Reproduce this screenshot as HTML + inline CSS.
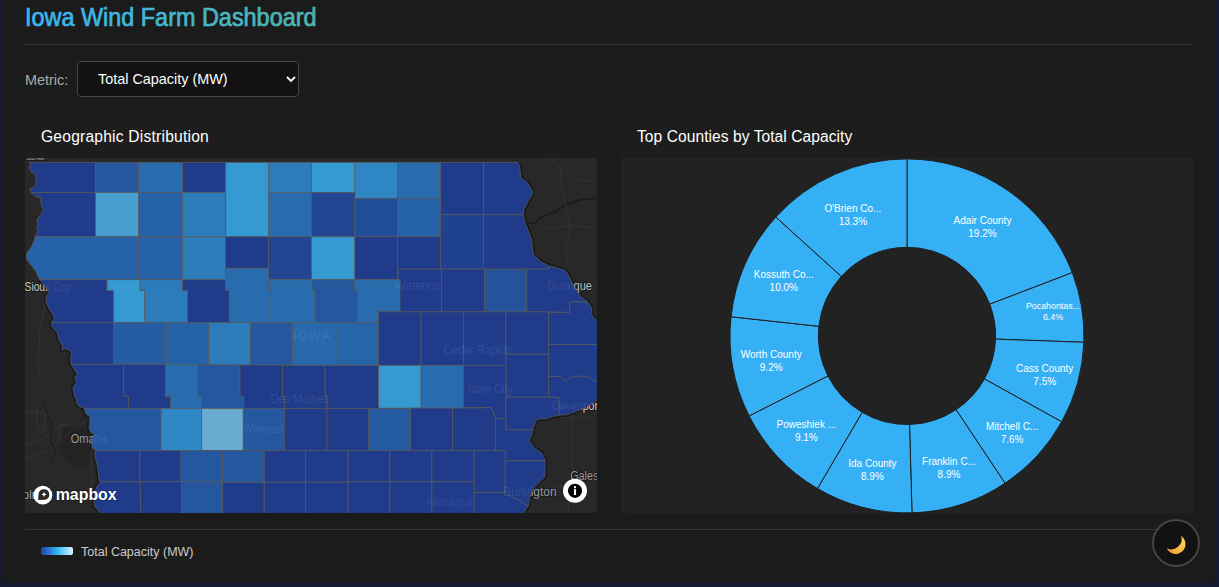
<!DOCTYPE html>
<html lang="en">
<head>
<meta charset="utf-8">
<title>Iowa Wind Farm Dashboard</title>
<style>
*{box-sizing:border-box;margin:0;padding:0}
html,body{width:1219px;height:587px;overflow:hidden}
body{background:#141a30;font-family:"Liberation Sans",sans-serif;position:relative;color:#fff}
.container{position:absolute;left:1px;top:-20px;width:1215px;height:603px;background:#1b1b1b;border-radius:8px}
.title{position:absolute;left:25px;top:2px;font-size:25px;line-height:30px;white-space:nowrap;
 background:linear-gradient(90deg,#38bdf8,#4db6ac);-webkit-background-clip:text;background-clip:text;color:transparent;-webkit-text-fill-color:transparent;transform-origin:0 0}
.hr{position:absolute;left:25px;width:1167px;height:1px;background:#333}
.metric{position:absolute;left:25px;top:71px;font-size:14.4px;line-height:18px;color:#aaa}
.select{position:absolute;left:77px;top:61px;width:222px;height:36px;border:1px solid #444;border-radius:4px;background:#121212}
.select span{position:absolute;left:20px;top:8px;font-size:14.4px;line-height:18px;color:#fff;white-space:nowrap}
.select svg{position:absolute;left:208px;top:14px}
.card{position:absolute;top:113.2px;width:572px;height:399.4px;background:#1d1d1d;border-radius:4px;overflow:hidden}
.card h3{position:absolute;left:16px;top:14px;font-size:15.6px;line-height:20px;font-weight:normal;color:#fff;white-space:nowrap}
.map{position:absolute;left:0;top:45px;width:572px;height:355px;background:#282828;overflow:hidden}
.piebox{position:absolute;left:0;top:45px;width:572px;height:355px;background:#222}
.legend{position:absolute;left:41px;top:547px;width:32px;height:8px;border-radius:2px;background:linear-gradient(90deg,#1e40af,#38bdf8 55%,#e0f2fe)}
.legtxt{position:absolute;left:81px;top:544.8px;font-size:12.5px;line-height:15px;color:#ccc;white-space:nowrap}
.moon{position:absolute;left:1152px;top:519px;width:48px;height:48px;border-radius:50%;border:2px solid #444;background:#121212}
</style>
</head>
<body>
<div class="container"></div>
<svg width="340" height="40" viewBox="0 0 340 40" style="position:absolute;left:0;top:0">
<defs><linearGradient id="tg" x1="25" x2="317" y1="0" y2="0" gradientUnits="userSpaceOnUse"><stop offset="0" stop-color="#38b6f5"/><stop offset="1" stop-color="#4db6ac"/></linearGradient></defs>
<text x="25" y="26.4" font-family="Liberation Sans, sans-serif" font-size="25" fill="url(#tg)" stroke="url(#tg)" stroke-width="0.7" textLength="291.5" lengthAdjust="spacingAndGlyphs">Iowa Wind Farm Dashboard</text>
</svg>
<div class="hr" style="top:44px"></div>
<div class="metric">Metric:</div>
<div class="select"><span>Total Capacity (MW)</span>
<svg width="10" height="7" viewBox="0 0 10 7"><path d="M1 1l4 4 4-4" fill="none" stroke="#fff" stroke-width="1.8"/></svg></div>

<div class="card" style="left:25px"><h3 style="letter-spacing:0.22px">Geographic Distribution</h3>
<div class="map">
<svg width="572" height="355" viewBox="0 0 572 355" style="position:absolute;left:0;top:0">
<polygon points="36.0,281.8 37.0,271.8 45.0,269.8 55.0,266.8 61.0,271.8 64.0,281.8 65.0,296.8 63.0,307.8 53.0,311.8 45.0,307.8 41.0,299.8 35.0,296.8" fill="#232323"/>
<polyline points="14.8,121.7 21.6,130.7 24.0,135.3 20.9,139.9 21.9,144.9 23.2,149.1 28.4,157.4 29.2,160.8 26.2,164.6 27.5,169.3 32.6,175.3 34.3,183.0 37.7,188.1 36.9,191.5 41.2,190.8 46.3,194.0 45.4,201.7 46.3,206.7 49.7,211.9 52.2,216.2 49.7,219.6 51.4,225.5 48.0,229.0 48.8,235.8 51.4,241.7 52.2,246.8 56.5,250.0 58.2,247.0 59.0,250.4 61.0,255.8 65.1,258.9 64.1,270.1 66.2,275.2 69.2,275.2 66.2,281.4 67.2,289.5 70.2,292.6 69.6,298.7 72.3,306.9 73.3,315.1 74.3,323.3 76.4,323.7 72.3,327.4 69.2,335.6 69.2,347.8 74.3,354.0 77.6,355.9" fill="none" stroke="#191919" stroke-width="4" stroke-linejoin="round"/>
<polyline points="493.4,4.4 494.8,9.7 495.8,19.9 502.0,24.0 508.1,34.2 503.0,43.4 498.9,51.6 498.3,56.7 499.3,62.4 503.1,72.4 506.8,82.4 508.1,96.1 515.6,103.6 523.1,107.4 523.6,111.2" fill="none" stroke="#191919" stroke-width="4" stroke-linejoin="round"/>
<polyline points="523.6,111.0 524.6,107.8 539.1,112.0 543.7,117.3 547.6,126.5 555.2,138.0 562.9,144.1 566.7,150.3 566.7,156.4 569.8,161.0 573.1,163.4" fill="none" stroke="#191919" stroke-width="4" stroke-linejoin="round"/>
<polyline points="573.1,241.6 568.2,244.8 561.3,249.4 555.2,251.7 549.1,254.0 541.4,256.8 534.2,257.1 527.6,258.6 519.8,261.0 512.9,261.0 510.0,264.9 508.1,271.8 506.1,278.6 504.1,282.5 510.0,290.4 516.9,295.3 519.8,301.1 520.0,302.9 520.2,310.9 519.8,318.8 513.9,324.6 509.0,329.5 505.1,338.4 503.2,348.1 497.9,355.4" fill="none" stroke="#191919" stroke-width="4" stroke-linejoin="round"/>
<polyline points="500.3,65.3 509.5,65.3 517.7,58.1 530.0,54.1 540.2,46.9 554.5,41.8 572.0,40.2" fill="none" stroke="#1a1a1a" stroke-width="1.6"/>
<polyline points="525.9,-0.2 535.1,11.1 537.1,31.6 540.2,45.9 545.3,66.3 544.3,78.6 540.2,86.8 542.3,103.1 546.3,111.3" fill="none" stroke="#3a3a3a" stroke-width="0.7"/>
<polyline points="535.1,11.1 552.5,21.3 572.0,24.4" fill="none" stroke="#3a3a3a" stroke-width="0.7"/>
<polyline points="515.7,71.4 545.3,67.4 572.0,70.0" fill="none" stroke="#3a3a3a" stroke-width="0.7"/>
<polyline points="547.3,255.8 547.3,321.8" fill="none" stroke="#3a3a3a" stroke-width="0.7"/>
<polyline points="543.3,328.8 543.3,354.8" fill="none" stroke="#3a3a3a" stroke-width="0.7"/>
<polyline points="525.0,328.8 543.3,328.8" fill="none" stroke="#3a3a3a" stroke-width="0.7"/>
<polyline points="537.0,259.8 572.0,259.8" fill="none" stroke="#3a3a3a" stroke-width="0.7"/>
<polyline points="0.0,300.8 20.0,293.8 37.0,281.8 50.0,269.8 65.0,259.8" fill="none" stroke="#3a3a3a" stroke-width="0.7"/>
<polyline points="0.0,286.8 15.0,281.8 30.0,271.8 45.0,259.8" fill="none" stroke="#3a3a3a" stroke-width="0.7"/>
<polyline points="12.0,246.8 12.0,271.8 20.0,271.8 20.0,253.8 12.0,253.8" fill="none" stroke="#3a3a3a" stroke-width="0.7"/>
<polyline points="0.0,253.8 12.0,253.8" fill="none" stroke="#3a3a3a" stroke-width="0.7"/>
<polyline points="35.0,281.8 35.0,266.8 45.0,266.8" fill="none" stroke="#3a3a3a" stroke-width="0.7"/>
<polyline points="23.0,128.8 19.0,151.8 15.0,171.8 13.0,201.8 15.0,221.8" fill="none" stroke="#3a3a3a" stroke-width="0.7"/>
<polyline points="67.0,281.8 67.0,341.8" fill="none" stroke="#3a3a3a" stroke-width="0.7"/>
<polyline points="17.0,241.8 22.0,253.8 27.0,266.8 25.0,281.8 31.0,293.8 27.0,303.8" fill="none" stroke="#1c1c1c" stroke-width="1"/>
<polyline points="47.0,236.8 55.0,251.8 61.0,261.8 63.0,273.8" fill="none" stroke="#1c1c1c" stroke-width="1"/>
<g font-family="Liberation Sans, sans-serif" fill="#9a9a9a"><text fill="#c4c4c4" x="-0.4" y="133.1" font-size="12" textLength="46.0" lengthAdjust="spacingAndGlyphs" stroke="#1d1d1d" stroke-width="2.2" paint-order="stroke" stroke-linejoin="round">Sioux City</text><text fill="#939393" x="45.7" y="284.8" font-size="12" textLength="36.2" lengthAdjust="spacingAndGlyphs" stroke="#1d1d1d" stroke-width="2.2" paint-order="stroke" stroke-linejoin="round">Omaha</text><text fill="#9a9a9a" x="370.0" y="132.2" font-size="12" textLength="46.0" lengthAdjust="spacingAndGlyphs" stroke="#1d1d1d" stroke-width="2.2" paint-order="stroke" stroke-linejoin="round">Waterloo</text><text fill="#9a9a9a" x="418.5" y="196.4" font-size="12" textLength="68.5" lengthAdjust="spacingAndGlyphs" stroke="#1d1d1d" stroke-width="2.2" paint-order="stroke" stroke-linejoin="round">Cedar Rapids</text><text fill="#b4b4b4" x="522.0" y="132.2" font-size="12" textLength="45.0" lengthAdjust="spacingAndGlyphs" stroke="#1d1d1d" stroke-width="2.2" paint-order="stroke" stroke-linejoin="round">Dubuque</text><text fill="#9a9a9a" x="245.4" y="244.8" font-size="12" textLength="58.6" lengthAdjust="spacingAndGlyphs" stroke="#1d1d1d" stroke-width="2.2" paint-order="stroke" stroke-linejoin="round">Des Moines</text><text fill="#9a9a9a" x="443.0" y="234.6" font-size="12" textLength="45.0" lengthAdjust="spacingAndGlyphs" stroke="#1d1d1d" stroke-width="2.2" paint-order="stroke" stroke-linejoin="round">Iowa City</text><text fill="#c8c8c8" x="527.0" y="252.1" font-size="12" textLength="49.0" lengthAdjust="spacingAndGlyphs" stroke="#1d1d1d" stroke-width="2.2" paint-order="stroke" stroke-linejoin="round">Davenport</text><text fill="#9a9a9a" x="218.8" y="274.6" font-size="12" textLength="39.4" lengthAdjust="spacingAndGlyphs" stroke="#1d1d1d" stroke-width="2.2" paint-order="stroke" stroke-linejoin="round">Winterset</text><text fill="#909090" x="478.0" y="337.8" font-size="12" textLength="53.5" lengthAdjust="spacingAndGlyphs" stroke="#1d1d1d" stroke-width="2.2" paint-order="stroke" stroke-linejoin="round">Burlington</text><text fill="#9a9a9a" x="402.0" y="347.8" font-size="12" textLength="46.0" lengthAdjust="spacingAndGlyphs" stroke="#1d1d1d" stroke-width="2.2" paint-order="stroke" stroke-linejoin="round">Keosauqua</text><text fill="#8c8c8c" x="545.2" y="322.0" font-size="12" textLength="49.8" lengthAdjust="spacingAndGlyphs" stroke="#1d1d1d" stroke-width="2.2" paint-order="stroke" stroke-linejoin="round">Galesburg</text><text fill="#a0a0a0" x="-23.0" y="340.8" font-size="12" textLength="36.0" lengthAdjust="spacingAndGlyphs" stroke="#1d1d1d" stroke-width="2.2" paint-order="stroke" stroke-linejoin="round">Lincoln</text><text fill="#bbb" x="1.6" y="1.8" font-size="6" textLength="17.7" lengthAdjust="spacingAndGlyphs" stroke="#1d1d1d" stroke-width="2.2" paint-order="stroke" stroke-linejoin="round">Sioux Falls</text><text x="268.2" y="182.4" font-size="12" textLength="36.8" lengthAdjust="spacing" stroke="#1d1d1d" stroke-width="2.2" paint-order="stroke" stroke-linejoin="round">IOWA</text></g>
<g stroke="#5c5c5c" stroke-width="0.75" stroke-linejoin="round">
<polygon points="70.6,34.6 6.2,34.6 6.0,34.2 5.1,30.4 8.6,29.6 10.9,25.8 10.9,18.1 7.1,14.3 4.0,10.4 6.0,6.6 4.0,4.4 70.6,4.4" fill="#1f3b8a"/>
<polygon points="70.6,4.4 113.8,4.4 113.8,34.6 70.6,34.6" fill="#24579e"/>
<polygon points="113.8,4.4 157.6,4.4 157.6,34.6 113.8,34.6" fill="#296cae"/>
<polygon points="157.6,4.4 200.6,4.4 200.6,34.6 157.6,34.6" fill="#1f3b8a"/>
<polygon points="200.6,4.4 243.6,4.4 243.6,78.7 200.6,78.7" fill="#359ad2"/>
<polygon points="243.6,4.4 286.6,4.4 286.6,34.6 243.6,34.6" fill="#2c7bbb"/>
<polygon points="286.6,4.4 329.9,4.4 329.9,34.6 286.6,34.6" fill="#359ad2"/>
<polygon points="329.9,4.4 372.6,4.4 372.6,40.4 329.9,40.4" fill="#2f88c5"/>
<polygon points="372.6,4.4 415.6,4.4 415.6,40.4 372.6,40.4" fill="#296cae"/>
<polygon points="415.6,4.4 458.6,4.4 458.6,56.7 415.6,56.7" fill="#1f3b8a"/>
<polygon points="458.6,4.4 493.4,4.4 494.8,9.7 495.8,19.9 502.0,24.0 508.1,34.2 503.0,43.4 498.9,51.6 498.3,56.7 458.6,56.7" fill="#1f3b8a"/>
<polygon points="70.6,78.7 10.2,78.7 13.2,72.6 11.7,69.4 13.2,66.4 11.7,62.6 15.6,56.4 18.6,51.8 16.3,48.0 15.6,39.6 10.9,38.5 7.1,35.7 6.2,34.6 70.6,34.6" fill="#1f3b8a"/>
<polygon points="70.6,34.6 113.8,34.6 113.8,78.7 70.6,78.7" fill="#47a0d0"/>
<polygon points="113.8,34.6 157.6,34.6 157.6,78.7 113.8,78.7" fill="#2662a7"/>
<polygon points="157.6,34.6 200.6,34.6 200.6,78.7 157.6,78.7" fill="#2c7bbb"/>
<polygon points="243.6,34.6 286.6,34.6 286.6,78.7 243.6,78.7" fill="#296cae"/>
<polygon points="286.6,34.6 329.9,34.6 329.9,78.7 286.6,78.7" fill="#214591"/>
<polygon points="329.9,40.4 372.6,40.4 372.6,78.7 329.9,78.7" fill="#224e98"/>
<polygon points="372.6,40.4 415.6,40.4 415.6,78.7 372.6,78.7" fill="#2662a7"/>
<polygon points="415.6,56.7 458.6,56.7 458.6,111.2 415.6,111.2" fill="#20418e"/>
<polygon points="458.6,56.7 498.3,56.7 499.3,62.4 503.1,72.4 506.8,82.4 508.1,96.1 515.6,103.6 523.1,107.4 523.6,111.2 458.6,111.2" fill="#1f3b8a"/>
<polygon points="70.6,121.7 14.8,121.7 12.5,116.9 10.2,112.3 4.8,105.4 1.4,100.8 1.7,95.4 6.3,89.3 8.6,83.9 10.2,78.7 70.6,78.7" fill="#2662a7"/>
<polygon points="70.6,78.7 113.8,78.7 113.8,121.7 70.6,121.7" fill="#2662a7"/>
<polygon points="113.8,78.7 157.6,78.7 157.6,121.7 113.8,121.7" fill="#2662a7"/>
<polygon points="157.6,78.7 200.6,78.7 200.6,121.7 157.6,121.7" fill="#2c7bbb"/>
<polygon points="200.6,78.7 243.6,78.7 243.6,110.4 200.6,110.4" fill="#1f3b8a"/>
<polygon points="243.6,78.7 286.6,78.7 286.6,121.7 243.6,121.7" fill="#214591"/>
<polygon points="286.6,78.7 329.9,78.7 329.9,121.7 286.6,121.7" fill="#359ad2"/>
<polygon points="329.9,78.7 372.6,78.7 372.6,121.7 329.9,121.7" fill="#1f3b8a"/>
<polygon points="372.6,78.7 415.6,78.7 415.6,111.2 372.6,111.2" fill="#1f3b8a"/>
<polygon points="82.1,121.7 82.1,132.4 88.6,132.4 88.6,164.6 26.2,164.6 29.2,160.8 28.4,157.4 23.2,149.1 21.9,144.9 20.9,139.9 24.0,135.3 21.6,130.7 14.8,121.7" fill="#1f3b8a"/>
<polygon points="82.1,121.7 115.1,121.7 115.1,132.4 119.6,132.4 119.6,164.6 88.6,164.6 88.6,132.4 82.1,132.4" fill="#359ad2"/>
<polygon points="115.1,121.7 157.6,121.7 157.6,132.4 162.6,132.4 162.6,164.6 119.6,164.6 119.6,132.4 115.1,132.4" fill="#2c7bbb"/>
<polygon points="157.6,121.7 200.6,121.7 200.6,132.4 204.3,132.4 204.3,164.6 162.6,164.6 162.6,132.4 157.6,132.4" fill="#1f3b8a"/>
<polygon points="200.6,110.4 243.6,110.4 243.6,132.4 246.3,132.4 246.3,164.6 204.3,164.6 204.3,132.4 200.6,132.4" fill="#296cae"/>
<polygon points="243.6,121.7 287.0,121.7 287.0,132.4 290.1,132.4 290.1,164.6 246.3,164.6 246.3,132.4 243.6,132.4" fill="#296cae"/>
<polygon points="287.0,121.7 329.9,121.7 329.9,132.4 332.5,132.4 332.5,164.6 290.1,164.6 290.1,132.4 287.0,132.4" fill="#24579e"/>
<polygon points="329.9,121.7 373.1,121.7 375.0,121.7 375.0,153.8 353.6,153.8 353.6,164.6 332.5,164.6 332.5,132.4 329.9,132.4" fill="#296cae"/>
<polygon points="373.1,111.2 416.6,111.2 417.1,153.8 375.0,153.8 375.0,121.7 373.1,121.7" fill="#1f3b8a"/>
<polygon points="416.6,111.2 459.6,111.2 459.6,153.8 416.6,153.8" fill="#1f3b8a"/>
<polygon points="459.6,111.2 501.9,111.2 501.9,153.8 459.6,153.8" fill="#23539b"/>
<polygon points="501.9,111.0 523.6,111.0 524.6,107.8 539.1,112.0 543.7,117.3 547.6,126.5 555.2,138.0 562.9,144.1 544.8,143.8 544.8,154.4 501.9,153.8" fill="#1f3b8a"/>
<polygon points="88.6,164.6 88.6,206.4 46.2,206.4 45.4,201.7 46.3,194.0 41.2,190.8 36.9,191.5 37.7,188.1 34.3,183.0 32.6,175.3 27.5,169.3 26.2,164.6" fill="#1f3b8a"/>
<polygon points="88.6,164.6 141.3,164.6 141.3,206.4 88.6,206.4" fill="#255ca2"/>
<polygon points="141.3,164.6 183.6,164.6 183.6,206.6 141.3,206.6" fill="#2662a7"/>
<polygon points="183.6,164.6 225.6,164.6 225.6,206.9 183.6,206.9" fill="#2c7bbb"/>
<polygon points="225.6,164.6 267.4,164.6 267.4,207.1 225.6,207.1" fill="#24579e"/>
<polygon points="267.4,164.6 310.9,164.6 310.9,207.4 267.4,207.4" fill="#2869ac"/>
<polygon points="310.9,164.6 353.6,164.6 353.6,207.4 310.9,207.4" fill="#2765a9"/>
<polygon points="353.6,153.8 396.1,153.8 396.1,207.4 353.6,207.4" fill="#1f3b8a"/>
<polygon points="396.1,153.8 438.6,153.8 438.6,207.4 396.1,207.4" fill="#1f3b8a"/>
<polygon points="438.6,153.8 480.9,153.8 480.9,207.6 438.6,207.6" fill="#1f3b8a"/>
<polygon points="480.9,153.8 523.6,153.8 523.6,196.3 480.9,196.3" fill="#1f3b8a"/>
<polygon points="523.6,154.4 544.8,154.4 544.8,143.8 562.9,144.1 566.7,150.3 566.7,156.4 569.8,161.0 573.1,163.4 573.1,186.5 523.6,186.5" fill="#1f3b8a"/>
<polygon points="523.6,186.5 573.1,186.5 573.1,223.4 567.5,222.6 565.2,219.5 556.0,218.0 546.0,219.5 541.4,222.6 539.1,222.9 535.3,218.5 523.6,218.5" fill="#1f3b8a"/>
<polygon points="523.6,218.5 535.3,218.5 539.1,222.9 541.4,222.6 546.0,219.5 556.0,218.0 565.2,219.5 567.5,222.6 573.1,223.4 573.1,241.6 568.2,244.8 561.3,249.4 555.2,251.7 549.1,254.0 541.4,256.8 534.2,257.1 534.2,239.3 523.6,239.3" fill="#1f3b8a"/>
<polygon points="480.9,196.3 523.6,196.3 523.6,239.3 480.9,239.3" fill="#1f3b8a"/>
<polygon points="98.6,206.4 98.6,238.2 103.6,238.2 103.6,250.6 59.1,250.6 59.0,250.4 58.2,247.0 56.5,250.0 52.2,246.8 51.4,241.7 48.8,235.8 48.0,229.0 51.4,225.5 49.7,219.6 52.2,216.2 49.7,211.9 46.3,206.7 46.2,206.4" fill="#1f3b8a"/>
<polygon points="98.6,206.4 140.6,206.4 140.6,238.2 145.6,238.2 145.6,250.6 103.6,250.6 103.6,238.2 98.6,238.2" fill="#1f3b8a"/>
<polygon points="140.6,206.6 172.6,206.6 172.6,238.2 176.6,238.2 176.6,250.6 145.6,250.6 145.6,238.2 140.6,238.2" fill="#296cae"/>
<polygon points="172.6,206.8 215.1,206.8 215.1,238.2 218.6,238.2 218.6,250.6 176.6,250.6 176.6,238.2 172.6,238.2" fill="#24579e"/>
<polygon points="215.1,207.0 257.6,207.0 257.6,238.2 259.4,238.2 259.4,250.6 218.6,250.6 218.6,238.2 215.1,238.2" fill="#1f3b8a"/>
<polygon points="257.6,207.4 300.1,207.4 300.1,238.2 301.9,238.2 301.9,250.6 259.4,250.6 259.4,238.2 257.6,238.2" fill="#1f3b8a"/>
<polygon points="300.1,207.4 353.6,207.4 353.6,238.2 353.6,238.2 353.6,250.6 301.9,250.6 301.9,238.2 300.1,238.2" fill="#1f3b8a"/>
<polygon points="353.6,207.4 396.1,207.4 396.1,250.1 353.6,250.1" fill="#359ad2"/>
<polygon points="396.1,207.4 438.6,207.4 438.6,250.1 396.1,250.1" fill="#296cae"/>
<polygon points="438.6,207.6 480.9,207.6 480.9,260.7 470.3,260.7 469.4,257.1 467.1,252.4 465.6,249.7 438.6,249.7" fill="#1f3b8a"/>
<polygon points="480.9,239.3 534.2,239.3 534.2,257.1 527.6,258.6 519.8,261.0 512.9,261.0 510.0,264.9 508.1,271.8 480.9,271.8" fill="#1f3b8a"/>
<polygon points="103.6,250.6 136.1,250.6 136.1,292.6 70.6,292.6 70.2,292.6 67.2,289.5 66.2,281.4 69.2,275.2 66.2,275.2 64.1,270.1 65.1,258.9 61.0,255.8 59.1,250.6" fill="#24579e"/>
<polygon points="136.1,250.6 176.6,250.6 176.6,292.6 136.1,292.6" fill="#2f88c5"/>
<polygon points="176.6,250.6 218.3,250.6 218.3,292.6 176.6,292.6" fill="#6aabd1"/>
<polygon points="218.3,250.6 259.4,250.6 259.4,292.6 218.3,292.6" fill="#24579e"/>
<polygon points="259.4,250.6 301.9,250.6 301.9,292.6 259.4,292.6" fill="#1f3b8a"/>
<polygon points="301.9,250.6 343.6,250.6 343.6,292.6 301.9,292.6" fill="#1f3b8a"/>
<polygon points="343.6,250.6 385.6,250.6 385.6,292.6 343.6,292.6" fill="#255ba2"/>
<polygon points="385.6,250.1 427.6,250.1 427.6,292.6 385.6,292.6" fill="#1f3b8a"/>
<polygon points="427.6,250.1 465.6,249.7 467.1,252.4 469.4,257.1 470.4,260.7 470.4,292.6 427.6,292.6" fill="#1f3b8a"/>
<polygon points="470.4,260.7 480.9,260.7 480.9,271.8 508.1,271.8 506.1,278.6 504.1,282.5 510.0,290.4 516.9,295.3 519.8,301.1 520.0,302.9 480.2,302.9 480.2,292.6 470.4,292.6" fill="#1f3b8a"/>
<polygon points="114.8,292.6 115.1,323.7 76.4,323.7 74.3,323.3 73.3,315.1 72.3,306.9 69.6,298.7 70.2,292.6" fill="#1f3b8a"/>
<polygon points="114.8,292.6 156.1,292.6 156.1,323.7 114.8,323.7" fill="#1f3b8a"/>
<polygon points="156.1,292.6 197.6,292.6 197.6,323.7 156.1,323.7" fill="#24579e"/>
<polygon points="197.6,292.6 239.3,292.6 239.3,324.3 197.6,324.3" fill="#24579e"/>
<polygon points="239.3,292.6 280.6,292.6 280.6,324.3 239.3,324.3" fill="#1f3b8a"/>
<polygon points="280.6,292.6 323.1,292.6 323.1,324.3 280.6,324.3" fill="#1f3b8a"/>
<polygon points="323.1,292.6 364.9,292.6 364.9,323.7 323.1,323.7" fill="#1f3b8a"/>
<polygon points="364.9,292.6 406.9,292.6 406.9,323.7 364.9,323.7" fill="#1f3b8a"/>
<polygon points="406.9,292.6 449.1,292.6 449.1,323.7 406.9,323.7" fill="#1f3b8a"/>
<polygon points="449.1,292.6 480.2,292.6 480.2,334.4 449.1,334.4" fill="#1f3b8a"/>
<polygon points="480.2,302.9 520.0,302.9 520.2,310.9 519.8,318.8 513.9,324.6 509.0,329.5 505.1,338.4 503.2,348.1 499.6,345.9 494.6,342.9 487.6,339.4 479.1,334.4 480.2,334.4" fill="#1f3b8a"/>
<polygon points="115.1,323.7 115.6,355.9 77.6,355.9 74.3,354.0 69.2,347.8 69.2,335.6 72.3,327.4 76.4,323.7" fill="#1f3b8a"/>
<polygon points="115.6,323.7 156.6,323.7 156.6,355.9 115.6,355.9" fill="#1f3b8a"/>
<polygon points="156.6,323.7 197.6,323.7 197.6,355.9 156.6,355.9" fill="#24579e"/>
<polygon points="197.6,324.3 239.3,324.3 239.3,355.9 197.6,355.9" fill="#1f3b8a"/>
<polygon points="239.3,324.3 280.6,324.3 280.6,355.9 239.3,355.9" fill="#1f3b8a"/>
<polygon points="280.6,324.3 323.1,324.3 323.1,355.9 280.6,355.9" fill="#1f3b8a"/>
<polygon points="323.1,323.7 364.9,323.7 364.9,355.9 323.1,355.9" fill="#1f3b8a"/>
<polygon points="364.9,323.7 406.9,323.7 406.9,355.9 364.9,355.9" fill="#1f3b8a"/>
<polygon points="406.9,323.7 449.1,323.7 449.1,355.9 406.9,355.9" fill="#1f3b8a"/>
<polygon points="449.1,334.4 479.1,334.4 487.6,339.4 494.6,342.9 499.6,345.9 503.2,348.1 497.9,355.9 449.1,355.9" fill="#1f3b8a"/>
</g>
<g font-family="Liberation Sans, sans-serif" fill="rgba(200,220,255,0.13)"><text  x="-0.4" y="133.1" font-size="12" textLength="46.0" lengthAdjust="spacingAndGlyphs" >Sioux City</text><text  x="45.7" y="284.8" font-size="12" textLength="36.2" lengthAdjust="spacingAndGlyphs" >Omaha</text><text  x="370.0" y="132.2" font-size="12" textLength="46.0" lengthAdjust="spacingAndGlyphs" >Waterloo</text><text  x="418.5" y="196.4" font-size="12" textLength="68.5" lengthAdjust="spacingAndGlyphs" >Cedar Rapids</text><text  x="522.0" y="132.2" font-size="12" textLength="45.0" lengthAdjust="spacingAndGlyphs" >Dubuque</text><text  x="245.4" y="244.8" font-size="12" textLength="58.6" lengthAdjust="spacingAndGlyphs" >Des Moines</text><text  x="443.0" y="234.6" font-size="12" textLength="45.0" lengthAdjust="spacingAndGlyphs" >Iowa City</text><text  x="527.0" y="252.1" font-size="12" textLength="49.0" lengthAdjust="spacingAndGlyphs" >Davenport</text><text  x="218.8" y="274.6" font-size="12" textLength="39.4" lengthAdjust="spacingAndGlyphs" >Winterset</text><text  x="478.0" y="337.8" font-size="12" textLength="53.5" lengthAdjust="spacingAndGlyphs" >Burlington</text><text  x="402.0" y="347.8" font-size="12" textLength="46.0" lengthAdjust="spacingAndGlyphs" >Keosauqua</text><text  x="545.2" y="322.0" font-size="12" textLength="49.8" lengthAdjust="spacingAndGlyphs" >Galesburg</text><text  x="-23.0" y="340.8" font-size="12" textLength="36.0" lengthAdjust="spacingAndGlyphs" >Lincoln</text><text  x="1.6" y="1.8" font-size="6" textLength="17.7" lengthAdjust="spacingAndGlyphs" >Sioux Falls</text><text x="268.2" y="182.4" font-size="12" textLength="36.8" lengthAdjust="spacing" >IOWA</text></g>
<g><circle cx="17.85" cy="337.20" r="9.4" fill="#fff"/><path d="M13.15,342.10 L13.55,335.70 A5.4,5.4 0 1 1 20.05,341.80 Z" fill="#2a2a2a"/><path d="M19.05,333.80 l0.8,1.8 1.8,0.8 -1.8,0.8 -0.8,1.8 -0.8,-1.8 -1.8,-0.8 1.8,-0.8z" fill="#fff"/><text x="30.7" y="341.7" font-family="Liberation Sans, sans-serif" font-weight="bold" font-size="16.2" fill="#fff" textLength="61" lengthAdjust="spacingAndGlyphs" stroke="rgba(0,0,0,0.25)" stroke-width="1.5" paint-order="stroke">mapbox</text></g>
<g><circle cx="550.0" cy="332.85" r="12" fill="#fff"/><circle cx="550.0" cy="332.85" r="7.1" fill="#000"/><circle cx="550.0" cy="329.25" r="1.15" fill="#fff"/><rect x="548.95" y="331.15000000000003" width="2.1" height="5.9" fill="#fff"/></g>
</svg>
</div>
</div>

<div class="card" style="left:621px"><h3 style="letter-spacing:0.05px">Top Counties by Total Capacity</h3>
<div class="piebox"></div>
</div>
<svg width="1219" height="587" viewBox="0 0 1219 587" style="position:absolute;left:0;top:0;pointer-events:none">
<g fill="#36b0f5" stroke="#1e1e1e" stroke-width="1">
<path d="M907.00,158.90A177.0,177.0 0 0 1 1072.30,272.62L989.74,304.22A88.6,88.6 0 0 0 907.00,247.30Z"/>
<path d="M1072.30,272.62A177.0,177.0 0 0 1 1083.88,342.29L995.54,339.10A88.6,88.6 0 0 0 989.74,304.22Z"/>
<path d="M1083.88,342.29A177.0,177.0 0 0 1 1061.75,421.82L984.46,378.91A88.6,88.6 0 0 0 995.54,339.10Z"/>
<path d="M1061.75,421.82A177.0,177.0 0 0 1 1005.02,483.28L956.06,409.67A88.6,88.6 0 0 0 984.46,378.91Z"/>
<path d="M1005.02,483.28A177.0,177.0 0 0 1 912.00,512.83L909.50,424.46A88.6,88.6 0 0 0 956.06,409.67Z"/>
<path d="M912.00,512.83A177.0,177.0 0 0 1 817.46,488.58L862.18,412.33A88.6,88.6 0 0 0 909.50,424.46Z"/>
<path d="M817.46,488.58A177.0,177.0 0 0 1 749.13,415.93L827.97,375.96A88.6,88.6 0 0 0 862.18,412.33Z"/>
<path d="M749.13,415.93A177.0,177.0 0 0 1 731.04,316.77L818.92,326.33A88.6,88.6 0 0 0 827.97,375.96Z"/>
<path d="M731.04,316.77A177.0,177.0 0 0 1 775.81,217.08L841.33,276.42A88.6,88.6 0 0 0 818.92,326.33Z"/>
<path d="M775.81,217.08A177.0,177.0 0 0 1 907.00,158.90L907.00,247.30A88.6,88.6 0 0 0 841.33,276.42Z"/>
</g>
<g fill="#fff" font-family="Liberation Sans, sans-serif" font-size="10.5" text-anchor="middle">
<text x="982.5" y="224.4" font-size="10">Adair County</text><text x="982.5" y="237.4" font-size="10">19.2%</text>
<text x="1053.0" y="308.7" font-size="8.85">Pocahontas...</text><text x="1053.0" y="320.3" font-size="8.85">6.4%</text>
<text x="1044.7" y="372.1" font-size="10">Cass County</text><text x="1044.7" y="385.1" font-size="10">7.5%</text>
<text x="1012.1" y="429.8" font-size="10">Mitchell C...</text><text x="1012.1" y="442.8" font-size="10">7.6%</text>
<text x="949.0" y="464.9" font-size="10">Franklin C...</text><text x="949.0" y="477.9" font-size="10">8.9%</text>
<text x="872.4" y="466.9" font-size="10">Ida County</text><text x="872.4" y="479.9" font-size="10">8.9%</text>
<text x="806.3" y="427.8" font-size="10">Poweshiek ...</text><text x="806.3" y="440.8" font-size="10">9.1%</text>
<text x="771.2" y="358.1" font-size="10">Worth County</text><text x="771.2" y="371.1" font-size="10">9.2%</text>
<text x="783.8" y="277.8" font-size="10">Kossuth Co...</text><text x="783.8" y="290.8" font-size="10">10.0%</text>
<text x="852.9" y="212.2" font-size="10">O'Brien Co...</text><text x="852.9" y="225.2" font-size="10">13.3%</text>
</g>
</svg>

<div class="hr" style="top:529px"></div>
<div class="legend"></div>
<div class="legtxt">Total Capacity (MW)</div>
<div class="moon"></div>
<svg width="30" height="30" viewBox="1162 530 30 30" style="position:absolute;left:1162px;top:530px">
<defs><linearGradient id="mg" x1="1183" y1="536" x2="1168" y2="553" gradientUnits="userSpaceOnUse"><stop offset="0" stop-color="#f8d65a"/><stop offset="0.6" stop-color="#f6b847"/><stop offset="1" stop-color="#f2953a"/></linearGradient></defs>
<path d="M1166.8,548.2 A9.8,9.8 0 1 0 1181.2,536 A10.3,10.3 0 0 1 1166.8,548.2 Z" fill="url(#mg)"/>
</svg>
</body>
</html>
